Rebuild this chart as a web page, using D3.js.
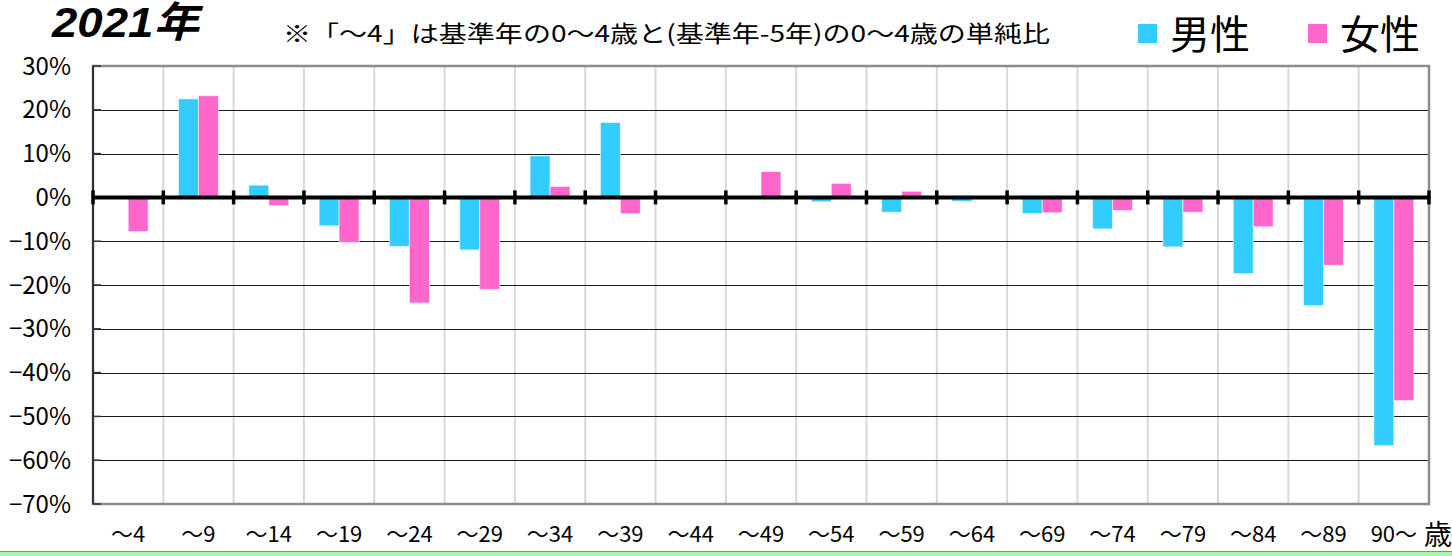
<!DOCTYPE html>
<html lang="ja">
  <head>
    <meta charset="utf-8">
    <title>2021年 年齢別 単純比</title>
    <style>
      html, body {
        margin: 0;
        padding: 0;
        background: #fff;
      }
      svg {
        display: block;
      }
      .num {
        font-family: "Liberation Sans Narrow", "Noto Sans CJK JP", sans-serif;
      }
      .jp {
        font-family: "Noto Sans CJK JP", sans-serif;
      }
    </style>
    <script src="https://d3js.org/d3.v7.min.js"></script>
  </head>
  <body>
    <svg id="chart" width="1452" height="556"></svg>
  <script>
  // age groups (5-year bands) and the % change per sex
  const ages = ['～4', '～9', '～14', '～19', '～24', '～29', '～34', '～39', '～44', '～49',
    '～54', '～59', '～64', '～69', '～74', '～79', '～84', '～89', '90～'];
  const male = [0, 22.5, 2.8, -6.5, -11.2, -12.0, 9.5, 17.1, 0.3, -0.2,
    -1.0, -3.4, -0.9, -3.7, -7.2, -11.3, -17.4, -24.7, -56.7];
  const female = [-7.8, 23.2, -1.9, -10.3, -24.1, -21.0, 2.5, -3.7, 0.3, 5.9,
    3.2, 1.4, 0, -3.5, -3.0, -3.4, -6.7, -15.5, -46.4];
  const yTicks = [30, 20, 10, 0, -10, -20, -30, -40, -50, -60, -70];
  const series = ['男性', '女性'];
  const colors = ['#33ccff', '#ff66cc'];

  const svg = d3.select('#chart');
  const plotL = 93, plotR = 1429, plotT = 66, plotB = 504;

  const x = d3.scaleBand().domain(ages).range([plotL, plotR]);
  const xs = d3.scaleBand().domain(series).range([0, x.bandwidth()]).paddingOuter(0.76);
  const y = d3.scaleLinear().domain([-70, 30]).range([plotB, plotT]);

  // vertical grid at category boundaries
  svg.append('g')
    .selectAll('line')
    .data(ages.slice(1))
    .enter().append('line')
    .attr('x1', d => x(d)).attr('x2', d => x(d))
    .attr('y1', plotT).attr('y2', plotB)
    .attr('stroke', '#d9d9d9')
    .attr('stroke-width', 2);

  // horizontal grid
  svg.append('g')
    .selectAll('line')
    .data(yTicks.filter(d => d !== 0 && d !== 30 && d !== -70))
    .enter().append('line')
    .attr('x1', plotL).attr('x2', plotR)
    .attr('y1', d => Math.round(y(d)) + 0.5).attr('y2', d => Math.round(y(d)) + 0.5)
    .attr('stroke', '#1a1a1a')
    .attr('stroke-width', 1.2);

  // bars
  const groups = svg.append('g')
    .selectAll('g')
    .data(ages)
    .enter().append('g')
    .attr('transform', d => `translate(${x(d)},0)`);

  groups.selectAll('rect')
    .data((d, i) => [male[i], female[i]].map((v, j) => ({ key: series[j], v: v, c: colors[j] })))
    .enter().append('rect')
    .attr('x', d => xs(d.key))
    .attr('width', xs.bandwidth())
    .attr('y', d => y(Math.max(0, d.v)))
    .attr('height', d => Math.abs(y(d.v) - y(0)))
    .attr('fill', d => d.c)
    .attr('stroke', 'rgba(255,255,255,0.6)')
    .attr('stroke-width', 1);

  // plot frame
  svg.append('rect')
    .attr('x', plotL).attr('y', plotT)
    .attr('width', plotR - plotL).attr('height', plotB - plotT)
    .attr('fill', 'none')
    .attr('stroke', '#8c8c8c')
    .attr('stroke-width', 2.5);
  svg.append('line')
    .attr('x1', plotL).attr('x2', plotL)
    .attr('y1', plotT).attr('y2', plotB)
    .attr('stroke', '#333')
    .attr('stroke-width', 2);

  // left axis ticks
  svg.append('g')
    .selectAll('line')
    .data(yTicks)
    .enter().append('line')
    .attr('x1', plotL).attr('x2', plotL + 8)
    .attr('y1', d => y(d)).attr('y2', d => y(d))
    .attr('stroke', '#333')
    .attr('stroke-width', 1.5);

  // zero line with category tick marks
  svg.append('line')
    .attr('x1', plotL).attr('x2', plotR)
    .attr('y1', y(0)).attr('y2', y(0))
    .attr('stroke', '#000')
    .attr('stroke-width', 4);
  svg.append('g')
    .selectAll('line')
    .data(ages.map(d => x(d)).concat([plotR]))
    .enter().append('line')
    .attr('x1', d => d).attr('x2', d => d)
    .attr('y1', y(0) - 7).attr('y2', y(0) + 7)
    .attr('stroke', '#000')
    .attr('stroke-width', 3.5);

  // y labels
  svg.append('g')
    .selectAll('text')
    .data(yTicks)
    .enter().append('text')
    .attr('class', 'num')
    .attr('x', 71)
    .attr('y', d => y(d) + 8.5)
    .attr('text-anchor', 'end')
    .attr('font-size', 24)
    .attr('fill', '#000')
    .text(d => (d < 0 ? '−' + Math.abs(d) : d) + '%');

  // x labels
  svg.append('g')
    .selectAll('text')
    .data(ages)
    .enter().append('text')
    .attr('class', 'num')
    .attr('x', d => x(d) + x.bandwidth() / 2)
    .attr('y', 542)
    .attr('text-anchor', 'middle')
    .attr('font-size', 22)
    .attr('fill', '#000')
    .text(d => d);
  svg.append('text')
    .attr('class', 'jp')
    .attr('x', 1424)
    .attr('y', 545)
    .attr('font-size', 28)
    .attr('fill', '#000')
    .text('歳');

  // title and note
  svg.append('text')
    .attr('x', 52).attr('y', 37)
    .attr('font-family', '"Liberation Sans", "Noto Sans CJK JP", sans-serif')
    .attr('font-size', 42)
    .attr('font-weight', 'bold')
    .attr('font-style', 'italic')
    .attr('textLength', 147)
    .attr('lengthAdjust', 'spacingAndGlyphs')
    .text('2021年');
  svg.append('text')
    .attr('class', 'jp')
    .attr('x', 283).attr('y', 42)
    .attr('font-size', 23)
    .attr('textLength', 767)
    .attr('lengthAdjust', 'spacingAndGlyphs')
    .text('※「～4」は基準年の0～4歳と(基準年-5年)の0～4歳の単純比');

  // legend
  const legendX = [1138, 1308];
  series.forEach((s, i) => {
    svg.append('rect')
      .attr('x', legendX[i]).attr('y', 24)
      .attr('width', 19).attr('height', 19)
      .attr('fill', colors[i]);
    svg.append('text')
      .attr('class', 'jp')
      .attr('x', legendX[i] + 32).attr('y', 49)
      .attr('font-size', 40)
      .attr('fill', '#000')
      .text(s);
  });

  // green rule at the very bottom
  svg.append('rect')
    .attr('x', 0).attr('y', 551)
    .attr('width', 1452).attr('height', 6)
    .attr('fill', '#a8f5a8');
  svg.append('line')
    .attr('x1', 0).attr('x2', 1452)
    .attr('y1', 551.5).attr('y2', 551.5)
    .attr('stroke', '#4caf50')
    .attr('stroke-width', 1);
  </script>
  </body>
</html>
